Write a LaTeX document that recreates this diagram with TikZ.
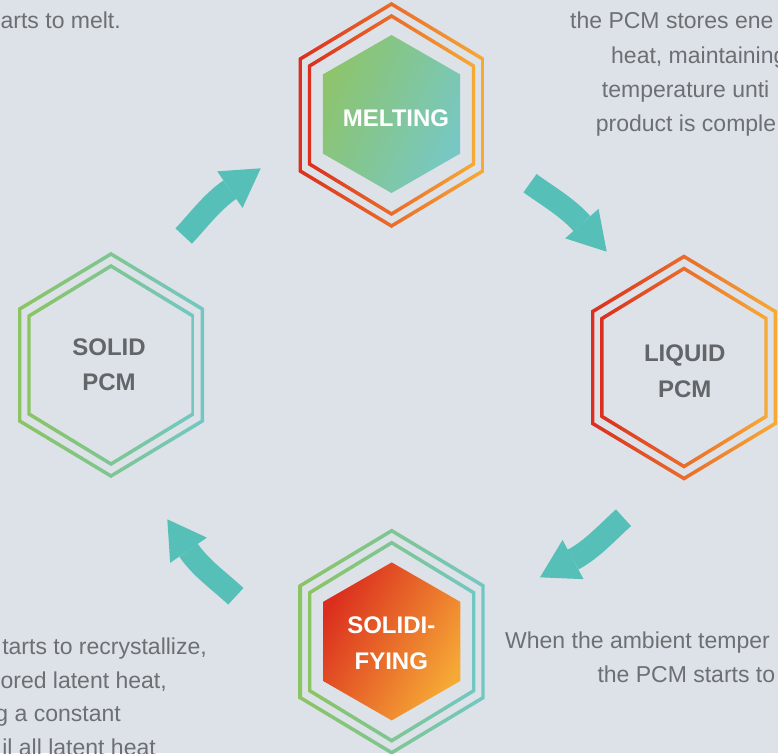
\documentclass[tikz,border=0pt]{standalone}
\usepackage{fontspec}
\setmainfont{Liberation Sans}
\usetikzlibrary{arrows.meta}
\definecolor{bg}{HTML}{DCE2E7}
\definecolor{textgray}{HTML}{6E6F73}
\definecolor{labelgray}{HTML}{636569}
\definecolor{hred}{HTML}{DC2E1F}
\definecolor{horange}{HTML}{F7AA35}
\definecolor{hgreen}{HTML}{8BC462}
\definecolor{hteal}{HTML}{72C7C3}
\definecolor{fgreen}{HTML}{8DC46C}
\definecolor{fteal}{HTML}{77C8C4}
\definecolor{fred}{HTML}{DB2E1E}
\definecolor{forange}{HTML}{F6AA36}
\definecolor{arrowc}{HTML}{56BFB8}
% hexagon outline: centre x, centre y, half width, half height, half side
\newcommand\hexshape[5]{({#1},{#2-(#4)}) -- ({#1+(#3)},{#2-(#5)}) -- ({#1+(#3)},{#2+(#5)}) -- ({#1},{#2+(#4)}) -- ({#1-(#3)},{#2+(#5)}) -- ({#1-(#3)},{#2-(#5)}) -- cycle}
% ring of thickness #6 with shading style #7
\newcommand\hexring[7]{\shade[#7, even odd rule] \hexshape{#1}{#2}{#3+#6*0.5}{#4+#6*0.6}{#5+#6*0.3} \hexshape{#1}{#2}{#3-#6*0.5}{#4-#6*0.6}{#5-#6*0.3};}
\begin{document}
\begin{tikzpicture}[x=1pt,y=-1pt,
  body/.style={inner sep=0pt, text=textgray, font=\fontsize{23}{34}\selectfont},
  hexlabel/.style={inner sep=0pt, align=center, font=\fontsize{24}{35.5}\selectfont\bfseries},
  flow/.style={draw=arrowc, line width=22.5pt, -{Triangle[length=37.5pt,width=44.5pt,line width=0pt]}},
  ringwarm/.style={left color=hred, right color=horange},
  ringcool/.style={left color=hgreen, right color=hteal}]
\useasboundingbox (0,0) rectangle (778,753);
\fill[bg] (0,0) rectangle (778,753);

% MELTING
\hexring{391.5}{115}{91.3}{111}{56}{3.4}{ringwarm}
\hexring{391.5}{115}{82}{99}{49}{3.4}{ringwarm}
\shade[top color=fgreen, middle color=fteal!75!fgreen, bottom color=fteal, shading angle=66] \hexshape{391.5}{114}{68.7}{79}{39.5};
\node[hexlabel, text=white] (melting) at (396,118) {MELTING};

% LIQUID PCM
\hexring{684}{367.5}{91.3}{111}{56}{3.4}{ringwarm}
\hexring{684}{367.5}{82}{99}{49}{3.4}{ringwarm}
\node[hexlabel, text=labelgray] (liquid) at (684.7,371.2) {LIQUID\\PCM};

% SOLID PCM
\hexring{111}{365}{91.3}{111}{56}{3.4}{ringcool}
\hexring{111}{365}{82}{99}{49}{3.4}{ringcool}
\node[hexlabel, text=labelgray] (solid) at (109,364.7) {SOLID\\PCM};

% SOLIDIFYING
\hexring{391.7}{641.7}{91.3}{111}{56}{3.4}{ringcool}
\hexring{391.7}{641.7}{82}{99}{49}{3.4}{ringcool}
\shade[top color=fred, middle color=fred!45!forange, bottom color=forange, shading angle=60] \hexshape{391.7}{641.4}{68.7}{79}{39.5};
\node[hexlabel, text=white] (solidifying) at (391.3,643.2) {SOLIDI-\\FYING};

% arrows
\coordinate (a1s) at (183.7,236);
\coordinate (a1e) at (260.7,168.3);
\coordinate (a2s) at (530,183.2);
\coordinate (a2e) at (606.7,251.7);
\coordinate (a3s) at (623.5,517.7);
\coordinate (a3e) at (540,577.3);
\coordinate (a4s) at (235.8,596.3);
\coordinate (a4e) at (167.3,519.3);
\draw[flow] (a1s) .. controls (198.8,220.0) and (211.7,202.2) .. (a1e);
\draw[flow] (a2s) .. controls (547.8,196.1) and (567.3,207.1) .. (a2e);
\draw[flow] (a3s) .. controls (607.1,532.4) and (592.4,549.2) .. (a3e);
\draw[flow] (a4s) .. controls (219.7,581.2) and (201,568.4) .. (a4e);

% texts
\node[body, anchor=base east] (tl1) at (121,28.3) {arts to melt.};

\node[body, anchor=base west] (tr1) at (570,28.3) {the PCM stores ene};
\node[body, anchor=base west] (tr2) at (611,63) {heat, maintaining};
\node[body, anchor=base west] (tr3) at (601.7,97.3) {temperature unti};
\node[body, anchor=base west] (tr4) at (595.7,131.7) {product is comple};

\node[body, anchor=base east] (bl1) at (207,654.3) {tarts to recrystallize,};
\node[body, anchor=base east] (bl2) at (167,688.2) {ored latent heat,};
\node[body, anchor=base east] (bl3) at (121,721.8) {g a constant};
\node[body, anchor=base east] (bl4) at (156,755.6) {il all latent heat};

\node[body, anchor=base west] (br1) at (505,648.3) {When the ambient temper};
\node[body, anchor=base west] (br2) at (597.3,682.3) {the PCM starts to};
\end{tikzpicture}
\end{document}
